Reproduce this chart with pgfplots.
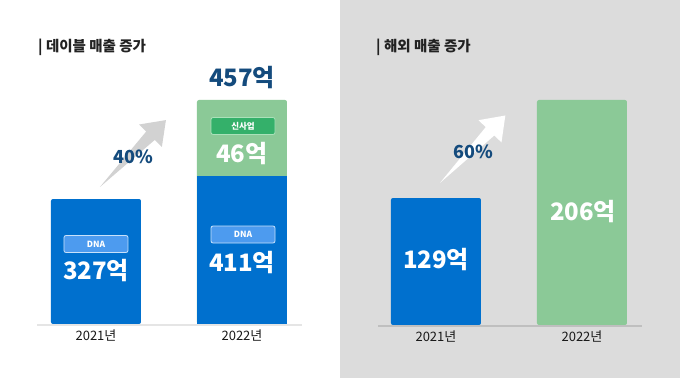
\documentclass[border=0pt]{standalone}
\usepackage{pgfplots}
\pgfplotsset{compat=1.18}
\usepackage{fontspec}
\setmainfont{Noto Sans CJK KR}
\usetikzlibrary{arrows.meta}
\definecolor{barblue}{RGB}{0,112,206}
\definecolor{bargreen}{RGB}{139,201,151}
\definecolor{navy}{RGB}{20,75,125}
\definecolor{dnabox}{RGB}{77,155,239}
\definecolor{dnaborder}{RGB}{200,225,250}
\definecolor{newbox}{RGB}{52,176,106}
\definecolor{newborder}{RGB}{170,225,185}
\definecolor{panelgray}{RGB}{220,220,220}
\definecolor{arrowgray}{RGB}{210,210,210}
\definecolor{titletext}{RGB}{34,34,34}
\pgfplotsset{
  panel/.style={
    scale only axis, clip=false,
    ymin=0,
    axis y line=none,
    axis x line*=bottom,
    x axis line style={draw=none},
    xtick={0,1},
    major tick length=0pt,
    xticklabel style={font=\fontsize{13}{13}\selectfont, text=black!90, anchor=center, yshift=-12pt},
  },
  bar/.style={ybar, bar width=90pt, bar shift=0pt, draw=none, fill=#1},
}
\tikzset{
  valtxt/.style={font=\bfseries\fontsize{24}{24}\selectfont, text=white},
  tag/.style={fill=#1, rounded corners=2pt, line width=0.8pt, minimum width=64pt, minimum height=17pt, inner sep=0pt, text=white, font=\bfseries\fontsize{8.5}{8.5}\selectfont},
  pct/.style={font=\bfseries\fontsize{18}{18}\selectfont, text=navy},
}
\begin{document}
\begin{tikzpicture}[x=1pt,y=1pt]
\fill[white] (0,0) rectangle (340,378);
\fill[panelgray] (340,0) rectangle (680,378);
% titles
\node[anchor=west, font=\bfseries\fontsize{14.5}{14.5}\selectfont, text=titletext, inner sep=0pt] at (38,331) {\textbar\ 데이블 매출 증가};
\node[anchor=west, font=\bfseries\fontsize{14.5}{14.5}\selectfont, text=titletext, inner sep=0pt] at (376,331) {\textbar\ 해외 매출 증가};

% left panel
\begin{axis}[panel, at={(37pt,54pt)}, anchor=south west, width=265pt, height=324pt,
  xmin=-0.404, xmax=1.411, ymax=324, xticklabels={2021년,2022년}]
\addplot[bar=barblue, rounded corners=2pt] coordinates {(0,125)};
\addplot[bar=bargreen, rounded corners=2pt] coordinates {(1,224)};
\addplot[bar=barblue] coordinates {(1,148)};
\draw[black!10, line width=2pt] (axis cs:-0.404,-1) -- (axis cs:1.411,-1);
\node[tag=dnabox, draw=dnaborder] at (axis cs:0,80) {DNA};
\node[valtxt] at (axis cs:0,53) {327억};
\node[tag=dnabox, draw=dnaborder] at (axis cs:1.007,89.5) {DNA};
\node[valtxt] at (axis cs:1,61) {411억};
\node[tag=newbox, draw=newborder] at (axis cs:1.007,198) {신사업};
\node[valtxt] at (axis cs:1,170) {46억};
\node[font=\bfseries\fontsize{24}{24}\selectfont, text=navy] at (axis cs:1,246) {457억};
\coordinate (a1) at (axis cs:0.027,137);
\coordinate (p1) at (axis cs:0.253,167);
\end{axis}
\fill[arrowgray, shift={(a1)}, rotate=45.4] (0,0) -- (72,-6) -- (72,-16) -- (94,0) -- (72,16) -- (72,6) -- cycle;
\node[pct] at (p1) {40\%};

% right panel
\begin{axis}[panel, at={(378pt,53pt)}, anchor=south west, width=264pt, height=325pt,
  xmin=-0.397, xmax=1.411, ymax=325, xticklabels={2021년,2022년}]
\addplot[bar=barblue, rounded corners=2pt] coordinates {(0,127)};
\addplot[bar=bargreen, rounded corners=2pt] coordinates {(1,225)};
\draw[black!25, line width=2pt] (axis cs:-0.397,-1) -- (axis cs:1.411,-1);
\node[valtxt] at (axis cs:0,65) {129억};
\node[valtxt] at (axis cs:1.007,113) {206억};
\coordinate (a2) at (axis cs:0.027,142);
\coordinate (p2) at (axis cs:0.253,173);
\end{axis}
\fill[white, shift={(a2)}, rotate=45.9] (0,0) -- (72,-6) -- (72,-16) -- (94,0) -- (72,16) -- (72,6) -- cycle;
\node[pct] at (p2) {60\%};
\end{tikzpicture}
\end{document}
